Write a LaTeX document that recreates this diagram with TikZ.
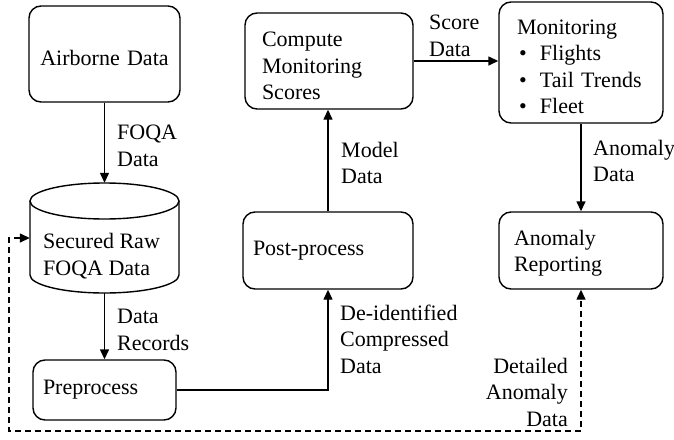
\documentclass[tikz,border=0pt]{standalone}
\usepackage{fontspec}
\setmainfont{Liberation Serif}
\newfontfamily\tnr{Liberation Serif}
\usetikzlibrary{arrows.meta}
\begin{document}
\begin{tikzpicture}[x=1pt,y=1pt,
  every node/.style={font=\tnr\fontsize{22}{26.5}\selectfont},
  box/.style={draw, rounded corners=12pt, line width=1.4pt, align=left, inner ysep=0pt},
  lab/.style={inner sep=0pt, align=left, anchor=west},
  conn/.style={line width=1.4pt, -{Triangle[length=10pt,width=9pt]}},
  dconn/.style={line width=1.4pt, dash pattern=on 6pt off 4pt, {Triangle[length=10pt,width=9pt]}-{Triangle[length=10pt,width=9pt]}}
]
\useasboundingbox (0,0) rectangle (674,-439);

% boxes
\node[box, align=center, text width=131pt, inner xsep=10pt, minimum height=96pt] (air) at (104.5,-54) {\rule{0pt}{23pt}Airborne Data};

\node[minimum width=149pt, minimum height=110pt, inner sep=0pt] (raw) at (104.5,-238) {};
\draw[line width=1.4pt] (30,-201) -- (30,-275) arc (180:360:74.5pt and 18pt) -- (179,-201);
\draw[line width=1.4pt] (104.5,-201) ellipse (74.5pt and 18pt);
\node[lab] (rawtext) at (43,-256) {Secured Raw\\FOQA Data};

\node[box, text width=123pt, inner xsep=10pt, minimum height=60pt] (pre) at (104.5,-390) {Preprocess};

\node[box, text width=150pt, inner xsep=10pt, minimum height=77pt] (post) at (328,-250.5) {Post-process};

\node[box, text width=134pt, inner xsep=17pt, minimum height=96pt] (comp) at (329,-61) {\rule{0pt}{25pt}Compute\\Monitoring\\Scores};

\node[box, text width=128pt, inner xsep=18pt, minimum height=121pt] (mon) at (581,-62.5)
  {\rule{0pt}{23pt}Monitoring\\\makebox[23pt][l]{\hspace{2pt}•}Flights\\\makebox[23pt][l]{\hspace{2pt}•}Tail Trends\\\makebox[23pt][l]{\hspace{2pt}•}Fleet};

\node[box, text width=134pt, inner xsep=15pt, minimum height=77pt] (rep) at (581,-250.5) {\rule{0pt}{21pt}Anomaly\\Reporting};

% connectors
\draw[conn] (air.south) -- (raw.north);
\draw[conn] (raw.south) -- (pre.north);
\draw[conn] (pre.east) -| (post.south);
\draw[conn] (post.north) -- (post.north |- comp.south);
\draw[conn] (comp.east) -- (comp.east -| mon.west);
\draw[conn] (mon.south) -- (rep.north);

\coordinate (dl) at (9,-431);
\coordinate (dr) at (581,-431);
\draw[dconn] (raw.west) -- (raw.west -| dl) -- (dl) -- (dr) -- (rep.south);

% labels
\node[lab] (l1) at (117,-146) {FOQA\\Data};
\node[lab] (l2) at (117,-330) {Data\\Records};
\node[lab] (l3) at (340,-339) {De-identified\\Compressed\\Data};
\node[lab] (l4) at (341,-163) {Model\\Data};
\node[lab] (l5) at (429,-36) {Score\\Data};
\node[lab] (l6) at (593,-161) {Anomaly\\Data};
\node[inner sep=0pt, align=right, anchor=east] (l7) at (568,-392) {Detailed\\Anomaly\\Data};
\end{tikzpicture}
\end{document}
